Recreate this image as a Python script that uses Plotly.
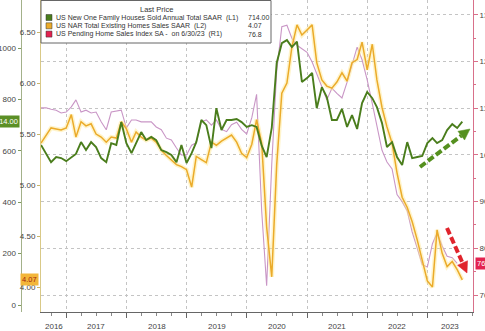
import pandas as pd
import plotly.graph_objects as go

# ---- data (monthly, month-end) ----
new_home_sales = [  # thousands, SAAR, Jul 2016 - Jul 2023
    623, 591, 556, 576, 572, 560,
    576, 588, 634, 603, 634, 615, 572, 556, 630, 623, 712, 630,
    591, 630, 673, 642, 654, 642, 603, 595, 584, 556, 623, 553,
    591, 634, 720, 700, 611, 766, 681, 720, 720, 724, 712, 693,
    700, 693, 620, 576, 689, 942, 1019, 1031, 1004, 1025, 868, 883,
    903, 766, 848, 809, 720, 720, 763, 693, 739, 685, 786, 829,
    805, 770, 708, 615, 634, 576, 545, 634, 572, 576, 580, 630,
    650, 630, 642, 681, 704, 689, 714,
]
existing_home_sales = [  # millions, SAAR, Jul 2016 - Jul 2023
    5.41, 5.49, 5.56, 5.55, 5.54, 5.56,
    5.69, 5.47, 5.62, 5.58, 5.60, 5.50, 5.47, 5.42, 5.47, 5.46, 5.62, 5.55,
    5.42, 5.52, 5.47, 5.44, 5.46, 5.42, 5.34, 5.29, 5.25, 5.20, 5.18, 5.15,
    4.98, 5.28, 5.25, 5.22, 5.42, 5.39, 5.43, 5.46, 5.49, 5.42, 5.31, 5.27,
    5.40, 5.64, 5.41, 4.59, 4.10, 5.20, 5.90, 6.00, 6.35, 6.57, 6.47, 6.52,
    6.57, 6.20, 6.03, 5.97, 5.95, 6.01, 6.10, 6.02, 6.20, 6.23, 6.40, 6.13,
    6.38, 6.03, 5.76, 5.57, 5.41, 5.12, 4.88, 4.78, 4.64, 4.46, 4.26, 4.06,
    4.00, 4.56, 4.33, 4.20, 4.25, 4.17, 4.07,
]
pending_home_index = [  # index, SA, Jul 2016 - Jun 2023
    110.1, 110.1, 109.8, 109.6, 109.0, 109.2,
    110.3, 111.8, 109.2, 109.6, 109.0, 109.2, 107.1, 105.4, 109.2, 109.4, 109.6, 105.8,
    107.5, 107.5, 107.1, 107.1, 107.1, 106.0, 105.4, 103.6, 103.2, 101.5, 100.0, 100.0,
    102.1, 102.6, 107.1, 107.5, 106.4, 107.5, 105.5, 105.0, 106.5, 107.0, 105.5, 104.5,
    108.0, 113.0, 88.0, 72.0, 98.0, 118.0, 127.5, 127.8, 125.0, 123.5, 122.7, 122.0,
    119.9, 117.5, 114.6, 111.8, 114.3, 113.2, 112.2, 115.6, 119.3, 123.1, 120.4, 116.1,
    111.0, 106.0, 101.0, 98.5, 97.0, 91.5, 90.0, 88.0, 83.5, 80.0, 76.5, 76.0,
    81.0, 83.3, 80.5, 78.3, 78.0, 76.8,
]
years = [2016, 2017, 2018, 2019, 2020, 2021, 2022, 2023]
l1_ticks = [0, 200, 400, 600, 800, 1000]
l2_ticks = [4.0, 4.5, 5.0, 5.5, 6.0, 6.5]

dates = pd.date_range("2016-07-31", periods=len(new_home_sales), freq="ME")
pending_dates = dates[:len(pending_home_index)]

series_names = [
    "US New One Family Houses Sold Annual Total SAAR  (L1)",
    "US NAR Total Existing Homes Sales SAAR  (L2)",
    "US Pending Home Sales Index SA -  on 6/30/23  (R1)",
]
last_prices = [f"{new_home_sales[-1]:.2f}", f"{existing_home_sales[-1]:.2f}",
               f"{pending_home_index[-1]:.1f}"]

GREEN = "#4a7d1c"
ORANGE = "#ebab2a"
PINK = "#c996c6"
RED = "#e3224f"
FONT = "Liberation Sans"

# ---- geometry helpers (pixel -> paper) ----
W, H = 485, 331
ML, MR, MT, MB = 2, 12, 0, 19
PW, PH = W - ML - MR, H - MT - MB


def px(x):
    return (x - ML) / PW


def py(y):
    return 1 - (y - MT) / PH


x_start, x_end = pd.Timestamp("2016-07-31"), pd.Timestamp("2023-10-04")

fig = go.Figure()

# pending index on the right axis (base subplot)
fig.add_trace(go.Scatter(x=pending_dates, y=pending_home_index, mode="lines",
                         line=dict(color=PINK, width=1.1), yaxis="y",
                         hoverinfo="skip", showlegend=False))
# existing home sales (L2) with a soft glow underneath
fig.add_trace(go.Scatter(x=dates, y=existing_home_sales, mode="lines",
                         line=dict(color="rgba(255,230,140,0.45)", width=4.5),
                         yaxis="y2", hoverinfo="skip", showlegend=False))
fig.add_trace(go.Scatter(x=dates, y=existing_home_sales, mode="lines",
                         line=dict(color=ORANGE, width=1.5), yaxis="y2",
                         showlegend=False))
# new home sales (L1)
fig.add_trace(go.Scatter(x=dates, y=new_home_sales, mode="lines",
                         line=dict(color=GREEN, width=1.9), yaxis="y3",
                         showlegend=False))

tickfont = dict(family=FONT, size=8, color="#444")

fig.update_layout(
    width=W, height=H,
    margin=dict(l=ML, r=MR, t=MT, b=MB),
    paper_bgcolor="white", plot_bgcolor="white",
    showlegend=False,
    xaxis=dict(
        type="date", range=[x_start, x_end], domain=[px(41), 1],
        tickmode="linear", tick0="2017-01-01", dtick="M12",
        ticks="outside", ticklen=5, tickcolor="#666", showticklabels=False,
        showgrid=True, gridcolor="#c4c4c4", griddash="dot", gridwidth=1,
        showline=True, linecolor="#666", linewidth=1, zeroline=False,
        minor=dict(tickmode="linear", tick0="2016-01-01", dtick="M3",
                   ticks="outside", ticklen=3, tickcolor="#888", showgrid=False),
        automargin=False,
    ),
    yaxis=dict(  # R1: pending home sales index
        side="right", anchor="x", range=[66.36, 133.2],
        tickmode="linear", tick0=70, dtick=10,
        ticks="outside", ticklen=4, tickcolor="#d8708a", tickfont=tickfont,
        showgrid=True, gridcolor="#c4c4c4", griddash="dot", gridwidth=1,
        showline=True, linecolor="#d8708a", linewidth=1, zeroline=False,
        minor=dict(dtick=5, ticks="outside", ticklen=2, tickcolor="#d8708a",
                   showgrid=False),
        automargin=False,
    ),
    yaxis2=dict(  # L2: existing home sales
        side="left", anchor="x", overlaying="y", range=[3.755, 6.814],
        tickmode="array", tickvals=l2_ticks, ticktext=[f"{v:.2f}" for v in l2_ticks],
        ticks="outside", ticklen=3, tickcolor="#c9b56a", tickfont=tickfont,
        showgrid=False, showline=True, linecolor="#d9c987", linewidth=1,
        zeroline=False, automargin=False,
    ),
    yaxis3=dict(  # L1: new home sales
        side="left", anchor="free", position=px(20.5), overlaying="y",
        range=[-27, 1187],
        tickmode="array", tickvals=l1_ticks, ticktext=[str(v) for v in l1_ticks],
        ticks="outside", ticklen=3, tickcolor="#7f9a5c", tickfont=tickfont,
        showgrid=False, showline=True, linecolor="#a3b18a", linewidth=1,
        zeroline=False, automargin=False,
    ),
)

# ---- year labels centred in each visible year ----
for yr in years:
    a = max(pd.Timestamp(f"{yr}-01-01"), x_start)
    b = min(pd.Timestamp(f"{yr + 1}-01-01"), x_end)
    mid = a + (b - a) / 2
    fig.add_annotation(x=mid, y=py(326), xref="x", yref="paper", text=str(yr),
                       showarrow=False, font=dict(family=FONT, size=8, color="#444"),
                       xanchor="center", yanchor="middle")

# ---- last-price tags on the axes ----
fig.add_annotation(x=px(19.5), y=new_home_sales[-1], xref="paper", yref="y3",
                   text=last_prices[0], showarrow=False, xanchor="right",
                   yanchor="middle", bgcolor="#5b8f26", borderpad=1,
                   font=dict(family=FONT, size=7.5, color="white"))
fig.add_annotation(x=px(39), y=existing_home_sales[-1], xref="paper", yref="y2",
                   text=last_prices[1], showarrow=False, xanchor="right",
                   yanchor="middle", bgcolor="#f3b63a", borderpad=1,
                   font=dict(family=FONT, size=7.5, color="#a3230c"))
fig.add_annotation(x=px(474.5), y=pending_home_index[-1], xref="paper", yref="y",
                   text=f"{pending_home_index[-1]:.1f}", showarrow=False,
                   xanchor="left", yanchor="middle", bgcolor=RED, borderpad=1,
                   font=dict(family=FONT, size=7.5, color="white"))

# ---- legend box ----
shapes = [dict(type="rect", xref="paper", yref="paper", x0=px(41), x1=px(271),
               y0=py(43), y1=py(0.5), line=dict(color="#666", width=1),
               fillcolor="white", layer="above")]
fig.add_annotation(x=px(156), y=py(9), xref="paper", yref="paper", text="Last Price",
                   showarrow=False, xanchor="center", yanchor="middle",
                   font=dict(family=FONT, size=7.5, color="#333"))
for i, (name, val, col) in enumerate(zip(series_names, last_prices, [GREEN, ORANGE, RED])):
    yc = 17.5 + 8.3 * i
    shapes.append(dict(type="rect", xref="paper", yref="paper",
                       x0=px(46), x1=px(52), y0=py(yc + 3), y1=py(yc - 3),
                       line=dict(color="#333", width=0.5), fillcolor=col, layer="above"))
    fig.add_annotation(x=px(54), y=py(yc), xref="paper", yref="paper",
                       text=name.replace("  ", "&nbsp; "), showarrow=False,
                       xanchor="left", yanchor="middle",
                       font=dict(family=FONT, size=7, color="#333"))
    fig.add_annotation(x=px(246), y=py(yc), xref="paper", yref="paper", text=val,
                       showarrow=False, xanchor="left", yanchor="middle",
                       font=dict(family=FONT, size=7, color="#333"))


# ---- dashed trend arrows ----
def dashed_arrow(x0, y0, x1, y1, color, head=11.0, half=5.5):
    dx, dy = x1 - x0, y1 - y0
    n = (dx * dx + dy * dy) ** 0.5
    ux, uy = dx / n, dy / n
    bx, by = x1 - head * ux, y1 - head * uy
    pxp, pyp = -uy, ux
    out = [dict(type="line", xref="paper", yref="paper",
                x0=px(x0), y0=py(y0), x1=px(bx), y1=py(by),
                line=dict(color=color, width=4, dash="7px,3px"), layer="above")]
    path = (f"M {px(x1)},{py(y1)} L {px(bx + half * pxp)},{py(by + half * pyp)} "
            f"L {px(bx - half * pxp)},{py(by - half * pyp)} Z")
    out.append(dict(type="path", xref="paper", yref="paper", path=path,
                    fillcolor=color, line=dict(color=color, width=0.5), layer="above"))
    return out


shapes += dashed_arrow(420, 167, 470, 129, "#55901f")
shapes += dashed_arrow(447, 228, 467, 273, "#e0242c")

fig.update_layout(shapes=shapes)

fig.write_html("out.html")
